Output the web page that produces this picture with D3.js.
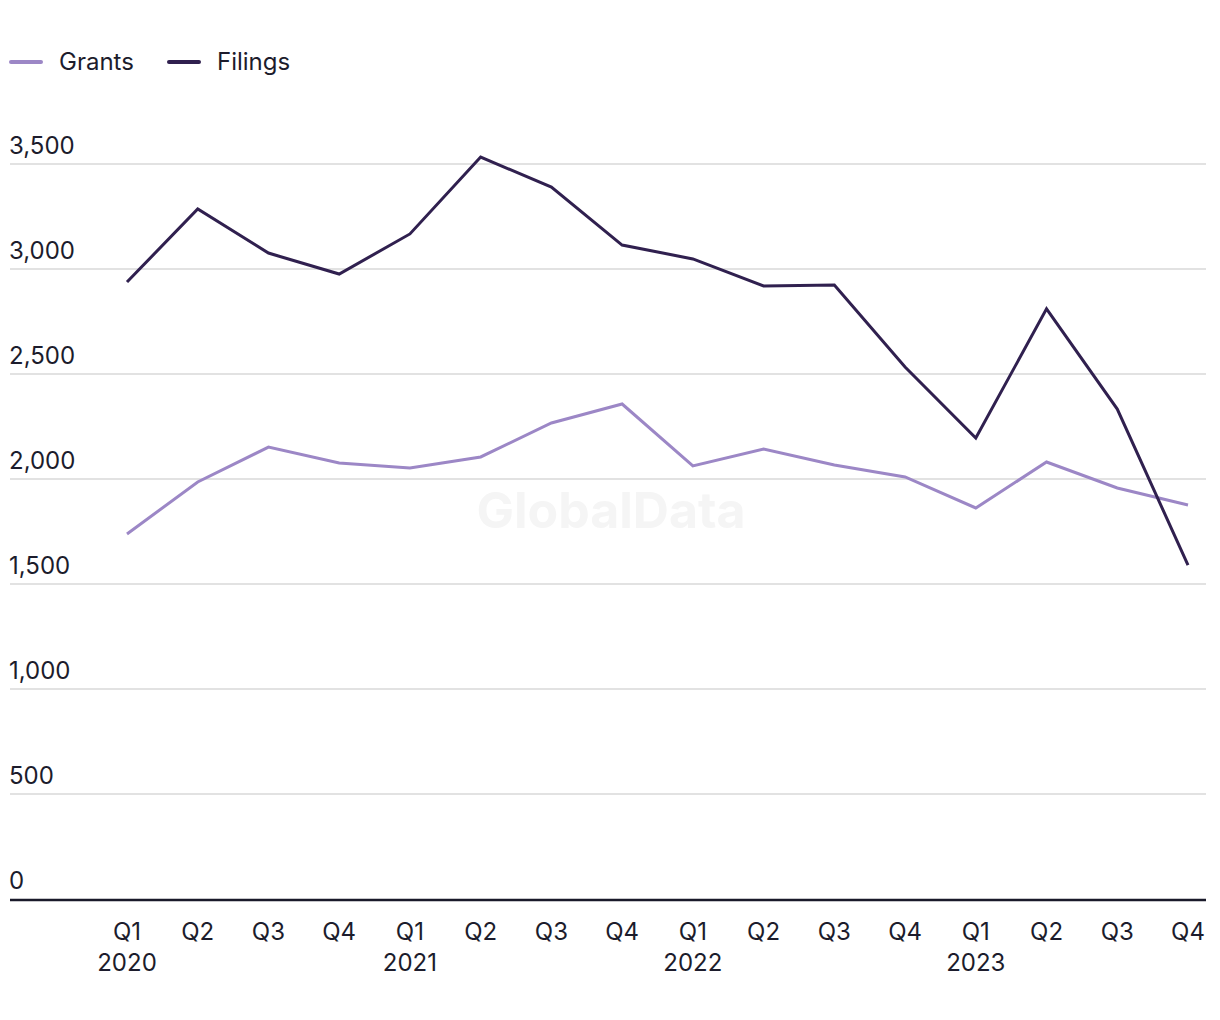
<!DOCTYPE html>
<html><head><meta charset="utf-8">
<script src="https://cdn.jsdelivr.net/npm/d3@7"></script>
<style>body{margin:0;background:#fff}svg{display:block}text{font-family:Inter,"Noto Sans",sans-serif}</style>
</head><body>
<script>
const quarters = ["Q1","Q2","Q3","Q4","Q1","Q2","Q3","Q4","Q1","Q2","Q3","Q4","Q1","Q2","Q3","Q4"];
const years = ["2020","","","","2021","","","","2022","","","","2023","","",""];
const grants = [1738,1986,2152,2076,2052,2105,2267,2357,2062,2143,2067,2010,1862,2081,1957,1876];
const filings = [2938,3286,3076,2976,3167,3533,3390,3114,3048,2919,2924,2533,2195,2810,2333,1590];
const yTicks = [0,500,1000,1500,2000,2500,3000,3500];
const seriesNames = ["Grants","Filings"];
const colors = ["#9c87c6","#30204f"];

const W=1220,H=1020;
const svg=d3.select("body").append("svg").attr("width",W).attr("height",H);
const idx=d3.range(quarters.length);
const x=d3.scalePoint().domain(idx).range([127,1188]);
const y=d3.scaleLinear().domain([0,3500]).range([899,164]);
const FS=24;

// watermark
svg.append("text").attr("x",611).attr("y",528).attr("text-anchor","middle")
  .attr("font-size",50).attr("font-weight",700).attr("fill","#f5f5f5").text("GlobalData");

// gridlines
const g=svg.append("g");
g.selectAll("line.grid").data(yTicks.filter(d=>d>0)).join("line")
  .attr("x1",10).attr("x2",1206).attr("y1",d=>y(d)).attr("y2",d=>y(d))
  .attr("stroke","#d9d9d9").attr("stroke-width",1.5);
g.selectAll("text.yl").data(yTicks).join("text")
  .attr("x",9).attr("y",d=>y(d)-10).attr("font-size",FS).attr("fill","#1c1c2c")
  .text(d=>d3.format(",")(d));

// x axis line
svg.append("line").attr("x1",10).attr("x2",1206).attr("y1",900).attr("y2",900)
  .attr("stroke","#1a1a2a").attr("stroke-width",2.5);
const xl=svg.append("g");
xl.selectAll("text.q").data(idx).join("text").attr("x",d=>x(d)).attr("y",940)
  .attr("text-anchor","middle").attr("font-size",FS).attr("fill","#1c1c2c").text(d=>quarters[d]);
xl.selectAll("text.yr").data(idx.filter(i=>years[i])).join("text").attr("x",d=>x(d)).attr("y",971)
  .attr("text-anchor","middle").attr("font-size",FS).attr("fill","#1c1c2c").text(d=>years[d]);

// lines
const line=d3.line().x((d,i)=>x(i)).y(d=>y(d));
[grants,filings].forEach((s,k)=>{
  svg.append("path").datum(s).attr("d",line).attr("fill","none")
    .attr("stroke",colors[k]).attr("stroke-width",3).attr("stroke-linejoin","miter");
});

// legend
const lx=[10,168];
seriesNames.forEach((n,k)=>{
  svg.append("line").attr("x1",lx[k]+1).attr("x2",lx[k]+31).attr("y1",62).attr("y2",62)
    .attr("stroke",colors[k]).attr("stroke-width",4).attr("stroke-linecap","round");
  svg.append("text").attr("x",lx[k]+49).attr("y",70).attr("font-size",FS).attr("fill","#1c1c2c").text(n);
});
</script>
</body></html>
